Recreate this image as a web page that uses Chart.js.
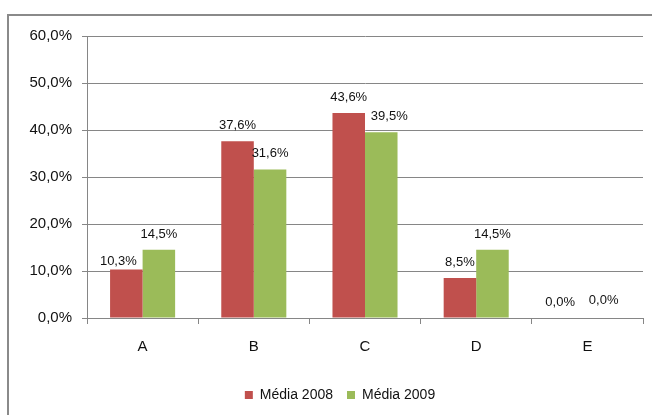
<!DOCTYPE html>
<html>
<head>
<meta charset="utf-8">
<script src="https://cdn.jsdelivr.net/npm/chart.js@4.4.1/dist/chart.umd.min.js"></script>
<style>
  html, body { margin: 0; padding: 0; background: #fff; overflow: hidden; }
  #wrap { position: relative; width: 680px; height: 415px; }
  #frame { position: absolute; left: 7px; top: 14px; width: 700px; height: 420px;
           border-top: 2px solid #8a8a8a; border-left: 2px solid #8a8a8a; box-sizing: border-box; }
  canvas { position: absolute; left: 0; top: 0; }
</style>
</head>
<body>
<div id="wrap">
  <div id="frame"></div>
  <canvas id="c" width="680" height="415"></canvas>
</div>
<script>
const categories = ['A', 'B', 'C', 'D', 'E'];
const seriesNames = ['Média 2008', 'Média 2009'];
const media2008 = [10.3, 37.6, 43.6, 8.5, 0.0];
const media2009 = [14.5, 31.6, 39.5, 14.5, 0.0];
const yTicks = [0, 10, 20, 30, 40, 50, 60];

const FONT = 'Liberation Sans, Arial, sans-serif';
const fmt = v => v.toFixed(1).replace('.', ',') + '%';

// manual nudges of some data labels, as in the original (dataset:index -> [dx, dy])
const labelNudges = { '0:0': [-8, 7], '1:2': [8, 0], '0:4': [-11, 0], '1:4': [0, -2] };

const dataLabels = {
  id: 'dataLabels',
  afterDatasetsDraw(chart) {
    const ctx = chart.ctx;
    ctx.save();
    ctx.font = '13px ' + FONT;
    ctx.fillStyle = '#111';
    ctx.textAlign = 'center';
    ctx.textBaseline = 'alphabetic';
    chart.data.datasets.forEach((ds, di) => {
      const meta = chart.getDatasetMeta(di);
      meta.data.forEach((el, i) => {
        const n = labelNudges[di + ':' + i] || [0, 0];
        ctx.fillText(fmt(ds.data[i]), el.x + n[0], el.y - 12 + n[1]);
      });
    });
    ctx.restore();
  }
};

// centre the legend on the whole (cropped) chart frame rather than the canvas
const legendShift = {
  id: 'legendShift',
  afterLayout(chart) {
    if (chart.legend) { chart.legend.left += 37; }
  }
};

new Chart(document.getElementById('c'), {
  type: 'bar',
  data: {
    labels: categories,
    datasets: [
      { label: seriesNames[0], data: media2008, backgroundColor: '#C0504D',
        categoryPercentage: 0.585, barPercentage: 1.0 },
      { label: seriesNames[1], data: media2009, backgroundColor: '#9BBB59',
        categoryPercentage: 0.585, barPercentage: 1.0 }
    ]
  },
  options: {
    responsive: false,
    animation: false,
    devicePixelRatio: 1,
    layout: { padding: { left: 0, right: 37, top: 36, bottom: 3 } },
    plugins: {
      tooltip: { enabled: false },
      legend: {
        position: 'bottom',
        labels: {
          boxWidth: 8, boxHeight: 8, padding: 14,
          color: '#111',
          font: { family: FONT, size: 14 }
        }
      }
    },
    scales: {
      x: {
        afterFit(s) { s.height = 56; },
        grid: { display: true, drawOnChartArea: false, drawTicks: true, tickLength: 6,
                color: '#868686', offset: true },
        border: { color: '#868686' },
        ticks: { color: '#111', padding: 14, font: { family: FONT, size: 15 } }
      },
      y: {
        min: 0, max: 60,
        afterFit(s) { s.width = 87; },
        afterBuildTicks(s) { s.ticks = yTicks.map(v => ({ value: v })); },
        grid: { color: '#868686', tickLength: 5 },
        border: { color: '#868686' },
        ticks: { color: '#111', padding: 10, font: { family: FONT, size: 15 },
                 callback: v => fmt(v) }
      }
    }
  },
  plugins: [dataLabels, legendShift]
});
</script>
</body>
</html>
